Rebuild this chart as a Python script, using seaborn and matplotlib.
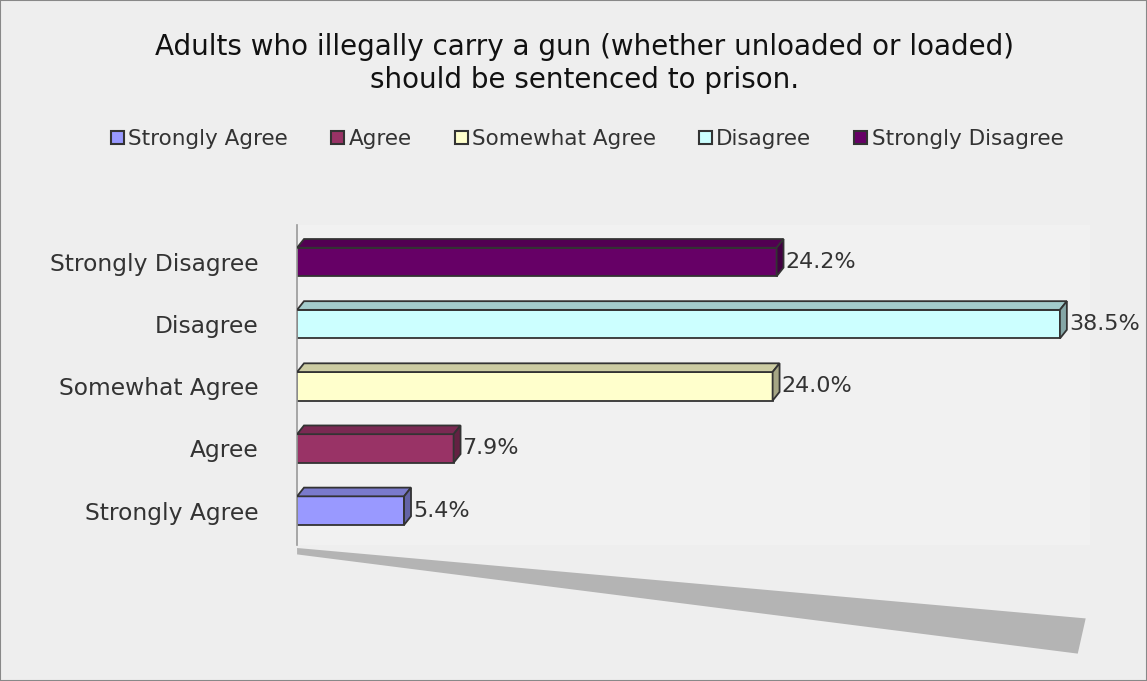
import matplotlib
matplotlib.use("Agg")
import matplotlib.pyplot as plt
import matplotlib.colors as mcolors
from matplotlib.patches import Polygon, Patch
import seaborn as sns
import pandas as pd

categories = ["Strongly Agree", "Agree", "Somewhat Agree", "Disagree", "Strongly Disagree"]
values = [5.4, 7.9, 24.0, 38.5, 24.2]
colors = ["#9999FF", "#993366", "#FFFFCC", "#CCFFFF", "#660066"]
title = "Adults who illegally carry a gun (whether unloaded or loaded)\nshould be sentenced to prison."

df = pd.DataFrame({"category": categories, "value": values})
palette = dict(zip(categories, colors))

sns.set_theme(style="white")
plt.rcParams["font.family"] = ["DejaVu Sans"]

fig = plt.figure(figsize=(11.47, 6.81), dpi=100, facecolor="#EEEEEE")
ax = fig.add_axes([0.259, 0.20, 0.691, 0.47])
ax.set_facecolor("#F1F1F1")

order = categories[::-1]
sns.barplot(data=df, x="value", y="category", hue="category", order=order,
            hue_order=categories, palette=palette, legend=False, ax=ax,
            width=0.46, edgecolor="#333333", linewidth=1.3, dodge=False, saturation=1)

ax.set_xlim(0, 40)
ax.set_ylim(4.55, -0.6)

def shade(c, f):
    r, g, b = mcolors.to_rgb(c)
    return (r * f, g * f, b * f)

# pseudo-3D faces derived from bar geometry
dx, dy = 0.35, 0.14
bars = [p for p in ax.patches]
for p in bars:
    x0, y0 = p.get_x(), p.get_y()
    w, h = p.get_width(), p.get_height()
    fc = p.get_facecolor()
    top = Polygon([(x0, y0), (x0 + dx, y0 - dy), (x0 + w + dx, y0 - dy), (x0 + w, y0)],
                  closed=True, facecolor=shade(fc, 0.8), edgecolor="#333333", lw=1.3, zorder=3)
    side = Polygon([(x0 + w, y0), (x0 + w + dx, y0 - dy), (x0 + w + dx, y0 + h - dy), (x0 + w, y0 + h)],
                   closed=True, facecolor=shade(fc, 0.65), edgecolor="#333333", lw=1.3, zorder=3)
    ax.add_patch(top)
    ax.add_patch(side)
    ax.text(x0 + w + dx + 0.1, y0 + h / 2, f"{w:.1f}%", va="center", ha="left",
            fontsize=16, color="#333333", zorder=4)

# floor
floor = Polygon([(0.0, -0.01), (0.995, -0.23), (0.985, -0.34), (0.0, -0.03)], closed=True,
                transform=ax.transAxes, facecolor="#B4B4B4", edgecolor="none", clip_on=False, zorder=0)
ax.add_patch(floor)

ax.set_xlabel("")
ax.set_ylabel("")
ax.set_xticks([])
ax.tick_params(axis="y", labelsize=16.8, colors="#333333", length=0, pad=28)
for s in ["top", "right", "bottom"]:
    ax.spines[s].set_visible(False)
ax.spines["left"].set_color("#999999")
ax.spines["left"].set_linewidth(1.2)

fig.text(0.51, 0.907, title, fontsize=20, color="#111111", ha="center", va="center",
         linespacing=1.2)

handles = [Patch(facecolor=c, edgecolor="#333333", linewidth=1.5) for c in colors]
fig.legend(handles, categories, loc="center", bbox_to_anchor=(0.512, 0.796), ncol=5,
           frameon=False, fontsize=15.5, handlelength=0.6, handleheight=0.6,
           handletextpad=0.2, columnspacing=2.0, labelcolor="#333333")

border = plt.Rectangle((0, 0), 1, 1, transform=fig.transFigure, fill=False,
                       edgecolor="#888888", lw=1.5)
fig.patches.append(border)

fig.savefig("out.png", dpi=100, facecolor=fig.get_facecolor())
